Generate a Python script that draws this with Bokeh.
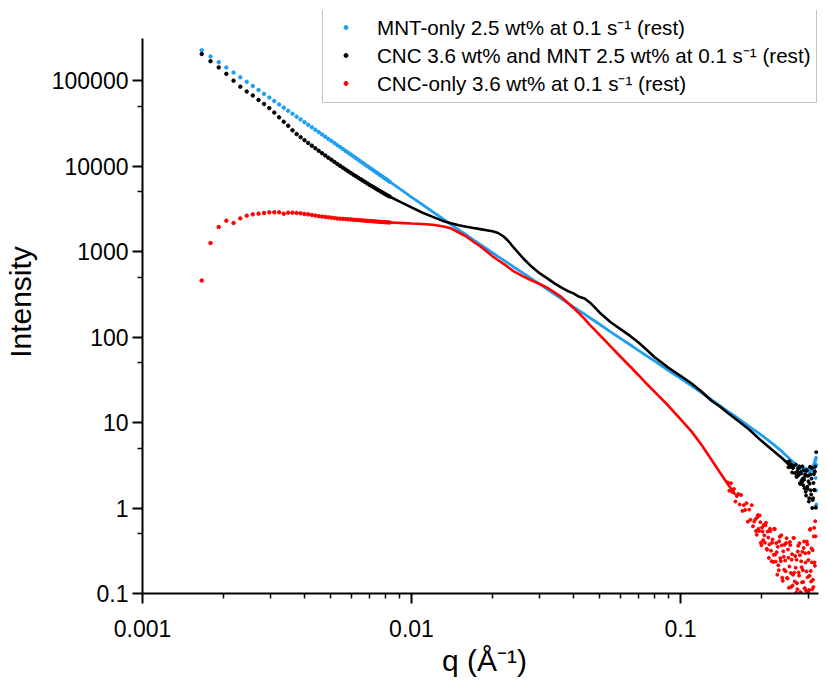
from bokeh.plotting import figure
from bokeh.models import Range1d, FixedTicker, CustomJSTickFormatter, Legend, LegendItem
from bokeh.embed import file_html
from bokeh.resources import INLINE

# ---------------- data ----------------
# low-q region: individual measured points
q_sparse = [0.00166, 0.00179, 0.00192, 0.00205, 0.00218, 0.00231, 0.00244, 0.00257, 0.00270, 0.00283,
            0.00296, 0.00309, 0.00322, 0.00335, 0.00348, 0.00361, 0.00374, 0.00387, 0.00400, 0.00413,
            0.00426, 0.00439, 0.00452, 0.00465, 0.00478, 0.00491, 0.00504, 0.00517, 0.00530, 0.00543,
            0.00556, 0.00569, 0.00582, 0.00595, 0.00608, 0.00621, 0.00634, 0.00647, 0.00660, 0.00673,
            0.00686, 0.00699, 0.00712, 0.00725, 0.00738, 0.00751, 0.00764, 0.00777, 0.00790, 0.00803,
            0.00816, 0.00829]
mnt_sparse = [226000, 191300, 164100, 142000, 124000, 109200, 96800, 86400, 77470, 69880,
              63300, 57580, 52580, 48230, 44350, 40900, 37830, 35110, 32630, 30410,
              28410, 26600, 24950, 23430, 22060, 20790, 19630, 18560, 17570, 16660,
              15810, 15030, 14300, 13620, 12990, 12400, 11850, 11330, 10850, 10390,
              9960, 9560, 9180, 8820, 8480, 8166, 7860, 7574, 7304, 7045, 6800, 6567]
mix_sparse = [204500, 168400, 142500, 119800, 99700, 84800, 74500, 66890, 59390, 53180,
              47610, 42270, 37140, 32980, 29600, 26150, 23660, 21760, 20070, 18610,
              17300, 16130, 15080, 14130, 13280, 12510, 11820, 11170, 10580, 10050,
              9550, 9100, 8670, 8300, 7930, 7615, 7293, 7003, 6743, 6493,
              6235, 6020, 5813, 5627, 5434, 5261, 5093, 4943, 4786, 4646, 4522, 4401]
cnc_sparse = [458, 1258, 1938, 2297, 2159, 2443, 2629, 2722, 2774, 2827,
              2873, 2873, 2873, 2774, 2850, 2850, 2827, 2796, 2751, 2722,
              2679, 2636, 2593, 2565, 2538, 2517, 2490, 2463, 2437, 2423,
              2411, 2398, 2385, 2372, 2359, 2346, 2333, 2321, 2308, 2297,
              2284, 2272, 2266, 2254, 2248, 2236, 2224, 2218, 2212, 2200, 2194, 2188]

# mid-q region: points so dense that they merge into a curve
q_dense = [0.00829, 0.009, 0.010, 0.011, 0.012, 0.013, 0.014, 0.015, 0.016, 0.017,
           0.018, 0.019, 0.020, 0.021, 0.022, 0.023, 0.024, 0.025, 0.026, 0.028,
           0.030, 0.032, 0.034, 0.036, 0.038, 0.040, 0.042, 0.044, 0.046, 0.048,
           0.050, 0.055, 0.060, 0.065, 0.070, 0.075, 0.080, 0.090, 0.100, 0.110,
           0.120, 0.130, 0.140, 0.150, 0.160, 0.180, 0.200, 0.220, 0.240, 0.260,
           0.280, 0.300]
mnt_dense = [6567, 5478, 4342, 3527, 2913, 2450, 2078, 1792, 1561, 1368,
             1209, 1079, 968, 874, 793, 721, 660, 607, 558, 477,
             413, 361, 317, 281, 251, 225, 203, 185, 168, 154,
             141, 115, 96.0, 81.2, 69.4, 60.0, 52.5, 40.9, 32.8, 26.9,
             22.2, 18.6, 15.8, 13.5, 11.8, 9.03, 7.12, 5.66, 4.50, 3.53,
             2.96, 2.80]
mix_dense = [4401, 3867, 3280, 2842, 2545, 2297, 2142, 2034, 1948, 1881,
             1830, 1777, 1725, 1648, 1499, 1313, 1108, 960, 835, 663,
             555, 485, 424, 380, 347, 324, 295, 283, 254, 222,
             194, 149, 123, 103, 85.8, 70.6, 58.4, 44.0, 35.2, 28.6,
             22.9, 18.1, 15.4, 12.9, 11.05, 8.30, 6.10, 4.75, 3.77, 2.96]
cnc_dense = [2188, 2165, 2130, 2102, 2062, 1980, 1871, 1670, 1491, 1303,
             1154, 1008, 881, 791, 719, 646, 587, 549, 513, 457,
             417, 376, 333, 295, 254, 219, 189, 163, 139, 121,
             106, 77.6, 58.4, 45.2, 35.5, 28.2, 23.0, 15.8, 10.96, 7.82,
             5.43, 3.72, 2.62, 1.90, 1.43]

# high-q region: noisy scattered points
q_cnc_tail = [0.150, 0.152, 0.154, 0.156, 0.158, 0.160, 0.162, 0.164, 0.166, 0.168,
              0.170, 0.172, 0.174, 0.176, 0.178, 0.180, 0.182, 0.184, 0.186, 0.188,
              0.190, 0.192, 0.194, 0.196, 0.198, 0.200, 0.202, 0.204, 0.206, 0.208,
              0.210, 0.212, 0.214, 0.216, 0.218, 0.220, 0.222, 0.224, 0.226, 0.228,
              0.230, 0.232, 0.234, 0.236, 0.238, 0.240, 0.242, 0.244, 0.246, 0.248,
              0.250, 0.252, 0.254, 0.256, 0.258, 0.260, 0.262, 0.264, 0.266, 0.268,
              0.270, 0.272, 0.274, 0.276, 0.278, 0.280, 0.282, 0.284, 0.286, 0.288,
              0.290, 0.292, 0.294, 0.296, 0.298, 0.300, 0.302, 0.304, 0.306, 0.308,
              0.310, 0.312, 0.314, 0.316, 0.318,
              0.191, 0.193, 0.195, 0.197, 0.199, 0.201, 0.203, 0.205, 0.207, 0.209,
              0.211, 0.213, 0.215, 0.217, 0.219, 0.221, 0.223, 0.225, 0.227, 0.229,
              0.231, 0.233, 0.235, 0.237, 0.239, 0.241, 0.243, 0.245, 0.247, 0.249,
              0.251, 0.253, 0.255, 0.257, 0.259, 0.261, 0.263, 0.265, 0.267, 0.269,
              0.271, 0.273, 0.275, 0.277, 0.279, 0.281, 0.283, 0.285, 0.287, 0.289,
              0.291, 0.293, 0.295, 0.297, 0.299, 0.301, 0.303, 0.305, 0.307, 0.309,
              0.311, 0.313, 0.315, 0.317]
cnc_tail = [1.99, 1.59, 1.95, 1.54, 1.67, 1.19, 1.38, 1.46, 1.10, 1.42,
            0.925, 1.08, 0.948, 1.14, 0.692, 0.959, 0.728, 1.08, 0.612, 0.695,
            0.740, 0.486, 0.826, 0.538, 0.682, 0.367, 0.532, 0.634, 0.393, 0.673,
            0.326, 0.452, 0.375, 0.537, 0.239, 0.428, 0.284, 0.566, 0.236, 0.304,
            0.352, 0.187, 0.460, 0.239, 0.366, 0.141, 0.269, 0.372, 0.182, 0.444,
            0.150, 0.262, 0.207, 0.369, 0.119, 0.288, 0.166, 0.445, 0.138, 0.200,
            0.248, 0.112, 0.362, 0.162, 0.281, 0.102, 0.203, 0.308, 0.136, 0.406,
            0.115, 0.231, 0.181, 0.376, 0.105, 0.300, 0.161, 0.570, 0.138, 0.231,
            0.321, 0.119, 0.586, 0.211, 0.466,
            0.537, 0.780, 0.571, 0.817, 0.393, 0.592, 0.421, 0.479, 0.627, 0.333,
            0.530, 0.261, 0.573, 0.317, 0.392, 0.234, 0.571, 0.285, 0.389, 0.166,
            0.214, 0.409, 0.258, 0.480, 0.153, 0.311, 0.190, 0.243, 0.389, 0.152,
            0.327, 0.117, 0.399, 0.174, 0.249, 0.124, 0.447, 0.175, 0.274, 0.102,
            0.132, 0.310, 0.176, 0.388, 0.104, 0.238, 0.135, 0.188, 0.341, 0.115,
            0.295, 0.108, 0.405, 0.155, 0.247, 0.110, 0.557, 0.183, 0.337, 0.112,
            0.145, 0.465, 0.231, 0.701]

q_mix_tail = [0.250, 0.252, 0.254, 0.256, 0.258, 0.260, 0.262, 0.264, 0.266, 0.268,
              0.270, 0.272, 0.274, 0.276, 0.278, 0.280, 0.282, 0.284, 0.286, 0.288,
              0.290, 0.292, 0.294, 0.296, 0.298, 0.300, 0.302, 0.304, 0.306, 0.308,
              0.310, 0.312, 0.314, 0.316, 0.318,
              0.271, 0.273, 0.275, 0.277, 0.279, 0.281, 0.283, 0.285, 0.287, 0.289,
              0.291, 0.293, 0.295, 0.297, 0.299, 0.301, 0.303, 0.305, 0.307, 0.309,
              0.311, 0.313, 0.315, 0.317, 0.319, 0.3195]
mix_tail = [3.46, 3.00, 3.52, 3.03, 3.24, 2.61, 2.94, 3.11, 2.56, 3.20,
            2.32, 2.68, 2.45, 2.93, 1.95, 2.63, 2.10, 3.07, 1.85, 2.14,
            2.33, 1.55, 2.77, 1.77, 2.38, 1.19, 1.92, 2.47, 1.44, 2.92,
            1.24, 1.96, 1.63, 2.68, 1.02,
            2.33, 2.90, 2.43, 3.06, 1.91, 2.53, 2.01, 2.21, 2.75, 1.70,
            2.49, 1.40, 2.75, 1.67, 2.05, 1.30, 3.03, 1.61, 2.21, 1.00,
            1.30, 2.49, 1.62, 3.05, 1.01, 4.5]

q_mnt_tail = [0.281, 0.284, 0.287, 0.290, 0.293, 0.296, 0.299, 0.302, 0.305, 0.307,
              0.309, 0.311, 0.313, 0.314, 0.315, 0.316, 0.317, 0.318, 0.319, 0.3192,
              0.3196, 0.3198]
mnt_tail = [2.95, 2.82, 2.92, 2.74, 2.86, 2.70, 2.84, 2.64, 2.93, 2.72,
            3.02, 2.78, 3.15, 2.86, 3.35, 2.62, 3.60, 2.25, 3.85, 1.60,
            3.20, 1.10]

x_ticks = [0.001, 0.01, 0.1]
x_minor = [0.002, 0.003, 0.004, 0.005, 0.006, 0.007, 0.008, 0.009,
           0.02, 0.03, 0.04, 0.05, 0.06, 0.07, 0.08, 0.09, 0.2, 0.3]
y_ticks = [0.1, 1, 10, 100, 1000, 10000, 100000]
y_minor = [0.5, 5, 50, 500, 5000, 50000]
x_axis_extent = (0.001, 0.326)
y_axis_extent = (0.1, 310000)

labels = ["MNT-only 2.5 wt% at 0.1 s\u207b\u00b9 (rest)",
          "CNC 3.6 wt% and MNT 2.5 wt% at 0.1 s\u207b\u00b9 (rest)",
          "CNC-only 3.6 wt% at 0.1 s\u207b\u00b9 (rest)"]

BLUE = "#1f9ff0"
BLACK = "#000000"
RED = "#ff0000"
FONT = "Liberation Sans"

# ---------------- figure ----------------
p = figure(width=827, height=684, x_axis_type="log", y_axis_type="log",
           x_range=Range1d(0.001, 0.349), y_range=Range1d(0.1, 660000),
           output_backend="svg", toolbar_location=None,
           min_border_left=142, min_border_right=1, min_border_top=10, min_border_bottom=91)
p.outline_line_color = None
p.xgrid.visible = False
p.ygrid.visible = False
p.background_fill_color = "white"
p.border_fill_color = "white"

# series
p.line(q_dense, mnt_dense, line_color=BLUE, line_width=2.8)
r_mnt = p.scatter(q_sparse, mnt_sparse, size=3.5, color=BLUE, marker="circle")
p.scatter(q_mnt_tail, mnt_tail, size=3, color=BLUE, marker="circle")

p.line(q_dense[:len(mix_dense)], mix_dense, line_color=BLACK, line_width=2.6)
r_mix = p.scatter(q_sparse, mix_sparse, size=3.5, color=BLACK, marker="circle")
p.scatter(q_mix_tail, mix_tail, size=3, color=BLACK, marker="circle")

p.line(q_dense[:len(cnc_dense)], cnc_dense, line_color=RED, line_width=2.6)
r_cnc = p.scatter(q_sparse, cnc_sparse, size=3.5, color=RED, marker="circle")
p.scatter(q_cnc_tail, cnc_tail, size=3, color=RED, marker="circle")

# axes
fmt = "return tick.toString();"
for ax, ticks, minor in ((p.xaxis[0], x_ticks, x_minor), (p.yaxis[0], y_ticks, y_minor)):
    ax.ticker = FixedTicker(ticks=ticks, minor_ticks=minor)
    ax.formatter = CustomJSTickFormatter(code=fmt)
    ax.axis_line_width = 2
    ax.axis_line_color = "black"
    ax.major_tick_line_width = 2
    ax.minor_tick_line_width = 1.5
    ax.major_tick_out = 10
    ax.major_tick_in = 0
    ax.minor_tick_out = 5
    ax.minor_tick_in = 0
    ax.major_label_text_font = FONT
    ax.major_label_text_font_size = "23px"
    ax.major_label_text_color = "black"
    ax.axis_label_text_font = FONT
    ax.axis_label_text_font_size = "30px"
    ax.axis_label_text_font_style = "normal"
    ax.axis_label_text_color = "black"

p.xaxis.bounds = x_axis_extent
p.yaxis.bounds = y_axis_extent
p.xaxis.axis_label = "q (\u00c5\u207b\u00b9)"
p.yaxis.axis_label = "Intensity"
p.xaxis.major_label_standoff = 16
p.xaxis.axis_label_standoff = 4
p.yaxis.major_label_standoff = 4
p.yaxis.axis_label_standoff = 12

legend = Legend(items=[LegendItem(label=labels[0], renderers=[r_mnt]),
                       LegendItem(label=labels[1], renderers=[r_mix]),
                       LegendItem(label=labels[2], renderers=[r_cnc])],
                location=(180, 490))
legend.label_text_font = FONT
legend.label_text_font_size = "20.6px"
legend.label_text_line_height = 1.0
legend.label_text_color = "black"
legend.padding = 5
legend.spacing = -5
legend.glyph_width = 35
legend.glyph_height = 10
legend.label_height = 25
legend.label_standoff = 14
legend.margin = 0
legend.border_line_color = "#8c8c8c"
legend.border_line_width = 1.5
legend.background_fill_color = "white"
legend.background_fill_alpha = 1.0
p.add_layout(legend)

open("out.html", "w").write(file_html(p, INLINE))
